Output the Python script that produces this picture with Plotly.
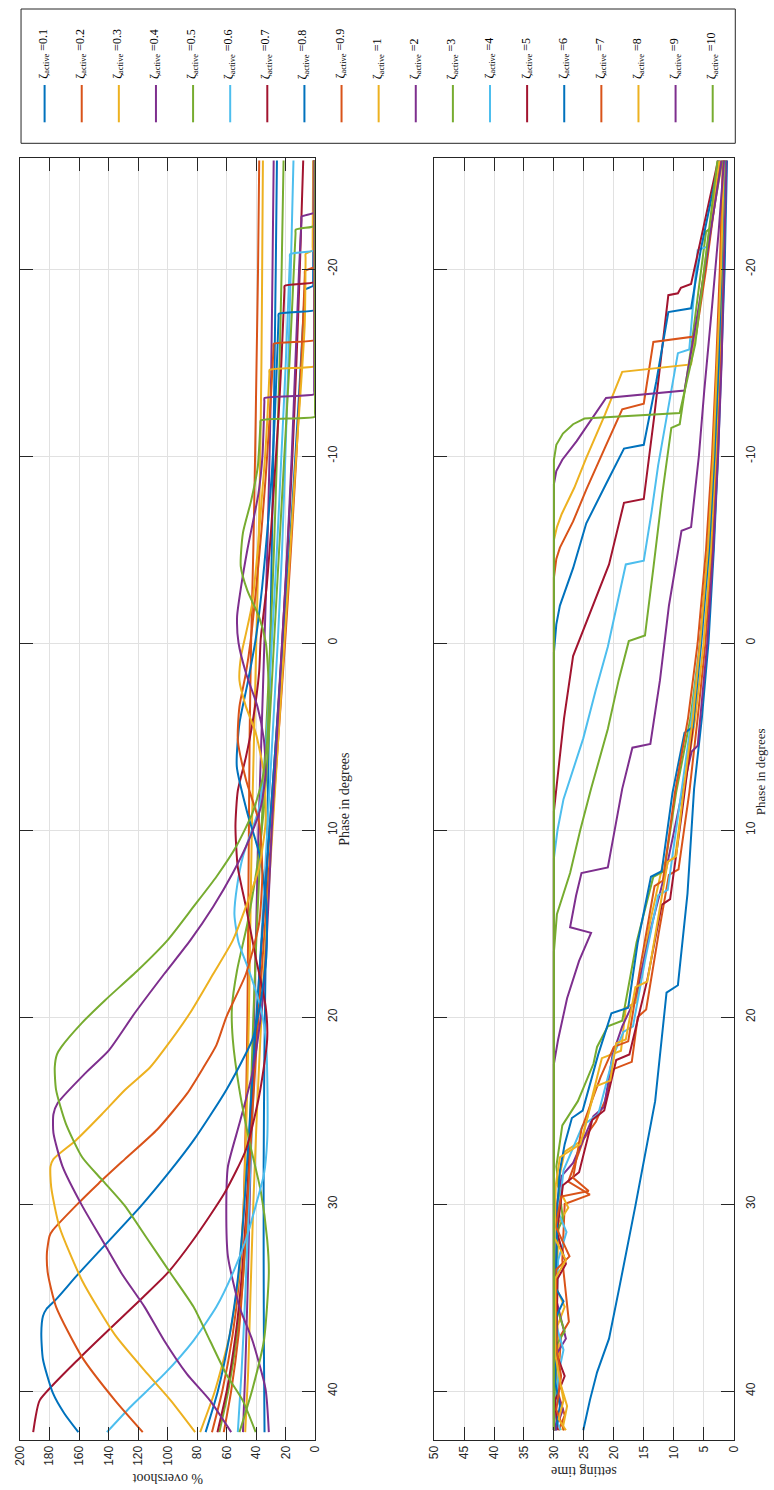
import plotly.graph_objects as go

W, H = 774, 1490

# ---- series labels and colours -------------------------------------------
zeta_active = ["0.1", "0.2", "0.3", "0.4", "0.5", "0.6", "0.7", "0.8", "0.9", "1",
               "2", "3", "4", "5", "6", "7", "8", "9", "10"]
line_colors = ["#0072BD", "#D95319", "#EDB120", "#7E2F8E", "#77AC30", "#4DBEEE", "#A2142F"]

phase_ticks = [-20, -10, 0, 10, 20, 30, 40]
phase_ticktext = ["-20", "-10", "0", "10", "20", "30", "40"]
overshoot_ticks = list(range(0, 201, 20))
settling_ticks = list(range(0, 51, 5))

# ---- % overshoot vs phase: (phase [deg], overshoot [%]) -------------------
overshoot_0_1 = [(42.2, 34.4), (38, 34.8), (33, 35.0), (28, 35.0), (22, 34.5), (16, 33.5), (10, 32.5),
                 (5, 31.5), (0, 30.5), (-5, 29.5), (-10, 28.5), (-15, 27.6), (-20, 26.8), (-25.8, 26.0)]
overshoot_0_2 = [(42.2, 70), (40, 63), (37, 56), (34, 51.5), (30, 48.5), (25, 47), (20, 46), (15, 45.5),
                 (10, 45), (5, 44.5), (0, 43.5), (-5, 42), (-10, 40.8), (-15, 39.8), (-20, 38.8), (-25.8, 38)]
overshoot_0_3 = [(42.2, 78), (40, 68), (37, 58), (34, 52), (30, 48.5), (25, 46.5), (20, 45), (15, 44),
                 (10, 43), (5, 41.5), (0, 40), (-5, 38.5), (-10, 37.3), (-15, 36.5), (-20, 36), (-25.8, 35.5)]
overshoot_0_4 = [(42.2, 49), (39, 47.5), (35, 46), (30, 44.5), (25, 43), (20, 41.5), (15, 40), (10, 38.5),
                 (5, 36.5), (0, 34.5), (-5, 32.5), (-10, 31), (-15, 29.8), (-20, 29), (-25.8, 28.2)]
overshoot_0_5 = [(42.2, 65), (40, 59), (37, 53), (34, 49), (30, 46), (25, 44), (20, 42), (15, 39.5),
                 (10, 36.5), (5, 33.5), (0, 30.5), (-5, 28), (-10, 26), (-15, 24.2), (-20, 22.8), (-25.8, 21.5)]
overshoot_0_6 = [(42.2, 52.5), (39, 50), (35, 47.5), (30, 45), (25, 42.5), (20, 39.5), (15, 36), (10, 32.5),
                 (5, 29), (0, 25.5), (-5, 22.5), (-10, 20.3), (-15, 18.3), (-20, 16.6), (-25.8, 14.8)]
overshoot_0_7 = [(42.2, 66.3), (40, 60), (37, 54), (34, 50), (30, 46.5), (25, 43), (20, 39.5), (15, 35.5),
                 (10, 31), (5, 26.5), (0, 22.5), (-5, 18.8), (-10, 15.5), (-15, 12.8), (-20, 10.5), (-25.8, 8.2)]
overshoot_0_8 = [(42.2, 74.3), (40, 66), (37, 58), (34, 52.5), (30, 48), (25, 44), (20, 40), (15, 35.5),
                 (10, 31), (5, 26.5), (0, 22), (-5, 17.5), (-10, 13.5), (-15, 9.8), (-18.7, 7.2), (-18.9, 7.0),
                 (-19.1, 1.5), (-19.3, 1.5), (-25.8, 1.2)]
overshoot_0_9 = [(42.2, 62), (40, 57), (37, 52), (34, 49), (30, 46), (25, 42.5), (20, 38.5), (15, 34),
                 (10, 29.5), (5, 25), (0, 20.5), (-5, 16.5), (-10, 12.8), (-15, 9.5), (-19.7, 7.1), (-19.9, 7.0),
                 (-20.1, 1.0), (-20.3, 1.0), (-25.8, 0.8)]
overshoot_1 = [(42.2, 47.5), (39, 45.5), (35, 44), (30, 42), (25, 39.5), (20, 36.5), (15, 33), (10, 29),
               (5, 25), (0, 21), (-5, 17), (-10, 13), (-14, 9.5), (-17, 7.2), (-20.6, 6.6), (-20.8, 6.6),
               (-21.0, 1.8), (-21.2, 1.8), (-25.8, 1.5)]
overshoot_2 = [(42.2, 31.5), (39.9, 33.7), (37.3, 42.6), (35.5, 51.4), (32.8, 59.2), (30.1, 60.3), (28, 59.2),
               (25.7, 51.4), (23, 42.6), (19.4, 36), (16, 33), (10, 29.5), (5, 26), (0, 22.5), (-5, 19),
               (-10, 16), (-15, 13.5), (-20, 11), (-22.6, 9.4), (-22.8, 9.3), (-23.0, 1.2), (-23.2, 1.2),
               (-25.8, 1.0)]
overshoot_3 = [(42.2, 51.4), (39.9, 42.6), (37.3, 34.8), (33.7, 31.5), (31.9, 32.6), (29.3, 37), (26.6, 44.8),
               (23.9, 51.4), (21.2, 55.9), (19.5, 56.5), (17.5, 53), (15, 46), (12, 39.5), (9, 35), (5, 31.5),
               (0, 28), (-5, 24.5), (-10, 21), (-15, 17.5), (-21.9, 13.4), (-22.1, 13.3), (-22.3, 0.3),
               (-22.5, 0.3), (-25.8, 0.1)]
overshoot_4 = [(42.2, 141.2), (40.8, 124.6), (39.1, 102.4), (37.3, 82.5), (35.5, 67), (33.7, 55.9), (31.9, 47),
               (30.1, 40.4), (28.4, 34.8), (26.6, 32.6), (24, 32.4), (21.2, 33.5), (19.5, 37), (17.5, 45),
               (16, 52), (14.5, 54.8), (13, 53), (11.4, 49), (8.8, 38), (6, 34), (3, 31.5), (0, 29.5), (-5, 26),
               (-10, 23), (-15, 20), (-20.6, 17.2), (-20.8, 17.1), (-21.0, 0.6), (-21.2, 0.6), (-25.8, 0.3)]
overshoot_5 = [(42.2, 191.1), (41.4, 189.5), (40.5, 186.7), (38.1, 157.9), (35.0, 116.9), (33.7, 100.2),
               (31.9, 82.5), (29.4, 61.4), (27.1, 47), (24.2, 38), (21.2, 32.6), (19.4, 33.7), (16.8, 40.4),
               (14.1, 47), (12.0, 52.5), (9.8, 54.1), (7.9, 52.5), (6.1, 47), (4.3, 42.6), (1.6, 38.1),
               (-0.2, 37), (-3, 33), (-6, 30), (-9, 27.5), (-12, 25), (-15, 23), (-18.9, 20.9), (-19.1, 20.8),
               (-19.3, 0.8), (-19.5, 0.8), (-25.8, 0.4)]
overshoot_6 = [(42.2, 160.5), (41.2, 170), (40.1, 177.8), (38.3, 184.5), (36.9, 185.6), (36.0, 184.5),
               (35.6, 182), (35.1, 175.6), (33.7, 160.1), (30.1, 118), (28.3, 99), (26.6, 82.5), (23.9, 60.3),
               (21.2, 42.6), (19.4, 37.5), (16.8, 33.2), (14.1, 33), (11.4, 37.5), (9.1, 46), (6.6, 53.2),
               (4.3, 51.4), (2.2, 46), (-0.2, 40.4), (-3, 36), (-6, 32.5), (-9, 29.5), (-12, 27.5), (-15, 26),
               (-17.4, 24.9), (-17.6, 24.8), (-17.8, 0.6), (-18.0, 0.6), (-25.8, 0.3)]
overshoot_7 = [(42.2, 116.9), (40.5, 135.7), (38.2, 157.9), (35.5, 175.6), (33.7, 181.2), (32.6, 181.8),
               (31.7, 180), (31.4, 177.8), (30.1, 162.3), (28.9, 146.8), (27.6, 129), (26.0, 106.9),
               (24.1, 86.9), (22.7, 75.8), (21.5, 67), (20, 60.3), (17.7, 47), (15, 38.1), (12.3, 35.9),
               (9.6, 38.1), (7.3, 47), (5.2, 52.5), (3.4, 51.4), (1.6, 47), (-0.2, 43.7), (-3, 40), (-6, 36.5),
               (-9, 33.5), (-12, 31), (-14, 29.5), (-15.8, 28.3), (-16.0, 28.2), (-16.2, 0.8), (-16.4, 0.8),
               (-25.8, 0.5)]
overshoot_8 = [(42.2, 81.4), (40.5, 98), (39.1, 113.5), (37, 135.7), (34.1, 157.9), (31.2, 173.4),
               (29.1, 178.9), (28.0, 179.4), (27.6, 177.4), (26.6, 162.3), (25.2, 144.6), (23.9, 129),
               (22.7, 112), (21.8, 103), (19.8, 85), (17.7, 69.2), (15.9, 55.9), (14.1, 47), (12, 38.1),
               (9.6, 33.7), (7, 34.8), (4.8, 40.4), (3.4, 47), (2, 51.4), (0.7, 50.3), (-0.5, 47), (-2, 43),
               (-5, 39), (-8, 36), (-10, 34), (-12, 32.5), (-14.4, 31.1), (-14.6, 31), (-14.8, 0.8),
               (-15.0, 0.8), (-25.8, 0.5)]
overshoot_9 = [(42.2, 57), (40.5, 71.4), (39.1, 86.9), (37.3, 102.4), (35.5, 115.7), (33.7, 131.3),
               (31.9, 144.6), (30.1, 157.9), (28, 171.2), (26.2, 177.4), (25.2, 177.4), (24.6, 174.5),
               (23.0, 155.7), (21.8, 140), (19.8, 122.4), (17.7, 102.4), (15.9, 84.7), (14.1, 69.2),
               (12.3, 55.9), (10.5, 44.8), (8.8, 37), (7, 33.7), (5.2, 34.8), (3.4, 39.2), (1.6, 47), (0, 52),
               (-1.4, 53), (-3, 50.3), (-5, 46), (-8, 38.5), (-10, 35.8), (-12.9, 34.5), (-13.1, 34.4),
               (-13.3, 0.8), (-13.5, 0.8), (-25.8, 0.5)]
overshoot_10 = [(42.2, 40.4), (40.5, 49.2), (39.1, 60.3), (37.3, 71.4), (35.5, 82.5), (33.7, 98),
                (31.9, 113.5), (30.1, 129), (28.7, 144.6), (27.5, 157.9), (25.7, 169), (23.9, 175.6),
                (22.7, 176.5), (22.0, 175), (21.6, 172), (20.3, 157.9), (19.1, 142.4), (17.5, 120.2),
                (15.9, 100.2), (14.1, 82.5), (12.5, 67), (10.9, 53.7), (9.1, 42.6), (7.3, 35.9), (5.2, 32.6),
                (2.5, 31.5), (0, 33.5), (-1.4, 38.1), (-2.8, 46), (-4.1, 50.5), (-5.9, 49), (-7.6, 43.5),
                (-9.4, 39), (-11.7, 37.2), (-11.9, 37), (-12.1, 0.2), (-12.3, 0.2), (-25.8, 0)]

# ---- settling time vs phase: (phase [deg], settling time) -----------------
settle_0_1 = [(42.1, 25.1), (40.5, 24.0), (39.0, 22.8), (37.2, 20.8), (34.5, 19.1), (30.1, 16.4), (24.5, 13.1),
              (18.7, 11.2), (18.3, 9.3), (13.4, 7.7), (7.8, 6.6), (4, 5.3), (0, 4.2), (-5, 3.3), (-10, 2.6),
              (-15, 2.0), (-20, 1.5), (-25.8, 1.1)]
settle_0_2 = [(42.1, 29.2), (41.3, 28.2), (40.0, 29.4), (37.0, 28.8), (36.3, 27.5), (33.0, 28.6), (30.0, 28.2),
              (29.5, 24.0), (28.8, 27.6), (26.5, 25.0), (25.6, 23.0), (24.5, 21.5), (22.8, 20.2), (22.4, 17.0),
              (20.0, 16.0), (19.6, 14.6), (15.5, 12.5), (12.4, 10.8), (12.1, 9.2), (8, 7.4), (4, 6.0), (0, 4.7),
              (-5, 3.6), (-10, 2.8), (-15, 2.2), (-20, 1.8), (-25.8, 1.3)]
settle_0_3 = [(42.1, 28.6), (40.8, 27.8), (39.5, 29.0), (36.5, 29.4), (35.5, 28.2), (34.5, 29.6), (31.0, 29.2),
              (30.2, 27.6), (29.0, 29.4), (27.2, 28.2), (26.6, 25.3), (24.5, 23.8), (22.2, 22.0), (21.8, 18.8),
              (19.5, 18.0), (19.2, 16.2), (15.0, 14.0), (11.8, 11.8), (11.5, 9.8), (8, 8.3), (4, 6.4), (0, 5.0),
              (-5, 3.8), (-10, 3.0), (-15, 2.4), (-20, 1.9), (-25.8, 1.4)]
settle_0_4 = [(42.1, 29.8), (41.0, 28.5), (39.8, 29.8), (38.0, 29.5), (37.2, 28.0), (35.0, 29.7), (30, 29.5),
              (28.5, 28.7), (27.8, 26.8), (25.3, 23.4), (24.8, 21.6), (22.0, 20.2), (20.5, 18.6), (19.0, 16.4),
              (15, 13.6), (12, 11.2), (8, 8.6), (5.8, 7.0), (5.5, 6.0), (0, 4.4), (-5, 3.4), (-10, 2.6),
              (-15, 2.0), (-20, 1.6), (-25.8, 1.2)]
settle_0_5 = [(42.1, 30), (40.0, 29.8), (37.5, 29.5), (36.8, 28.2), (35.5, 29.6), (31.5, 29.5), (30.8, 28.5),
              (28.0, 29.6), (25.8, 28.6), (24.5, 26.0), (22.5, 23.4), (21.6, 22.8), (20.5, 21.0), (20.2, 18.6),
              (16.0, 16.2), (12.5, 13.4), (12.2, 11.6), (8, 9.6), (4, 7.2), (0, 5.6), (-5, 4.1), (-10, 3.2),
              (-15, 2.5), (-20, 2.0), (-25.8, 1.5)]
settle_0_6 = [(42.1, 28.9), (41.2, 29.9), (39.0, 29.2), (37.8, 28.4), (36.5, 29.6), (33.0, 29.3), (31.5, 27.9),
              (30.5, 29.2), (28.2, 28.4), (25.8, 25.2), (25.2, 22.6), (22.0, 20.0), (20.8, 18.4), (20.5, 16.8),
              (17.0, 14.8), (13.5, 12.6), (13.2, 11.0), (8, 8.8), (4, 7.0), (0, 5.6), (-5, 4.2), (-10, 3.3),
              (-15, 2.6), (-20, 2.1), (-25.8, 1.6)]
settle_0_7 = [(42.1, 29.4), (40.5, 29.8), (39.2, 28.2), (38.0, 29.6), (34.0, 29.4), (33.2, 28.0), (31.5, 29.5),
              (29.0, 28.5), (28.3, 25.8), (25.5, 23.6), (25.0, 21.6), (22.3, 19.6), (22.0, 17.4), (18.0, 14.4),
              (14.0, 12.0), (13.7, 10.6), (9, 8.6), (4.5, 6.8), (0, 5.6), (-5, 4.3), (-10, 3.4), (-15, 2.7),
              (-20, 2.2), (-25.8, 1.7)]
settle_0_8 = [(42.1, 29.7), (40.8, 29.0), (39.5, 29.8), (36.0, 29.6), (35.2, 28.4), (34.5, 29.7), (30.0, 29.4),
              (28.2, 29.0), (26.8, 28.2), (25.4, 27.0), (25.0, 25.2), (22.0, 22.6), (19.8, 20.4), (19.5, 17.6),
              (16, 16.0), (12.5, 13.8), (12.2, 12.0), (8, 10.2), (4.8, 8.2), (4.5, 6.8), (0, 5.4), (-5, 4.1),
              (-10, 3.2), (-15, 2.5), (-20, 2.0), (-25.8, 1.5)]
settle_0_9 = [(42.1, 28.3), (41.0, 29.6), (39.2, 28.8), (37.5, 29.7), (33.5, 29.6), (32.8, 27.4), (31.2, 29.7),
              (29.6, 28.8), (29.3, 24.2), (28.6, 26.8), (26.0, 25.4), (23.2, 22.2), (21.6, 20.0), (21.3, 17.6),
              (17, 15.4), (13, 13.2), (12.7, 11.8), (8, 9.8), (4, 7.6), (0, 6.0), (-5, 4.6), (-10, 3.6),
              (-15, 2.9), (-20, 2.3), (-25.8, 1.8)]
settle_1 = [(42.1, 28.0), (41.5, 29.2), (40.5, 28.4), (38.0, 29.8), (34.0, 29.8), (33.0, 28.0), (31.8, 29.9),
            (29.0, 29.7), (27.5, 29.0), (26.8, 25.6), (23.7, 23.0), (23.4, 20.6), (21.4, 19.6), (21.2, 18.0),
            (18.4, 16.4), (18.1, 14.4), (11.7, 11.0), (11.4, 9.6), (8, 8.4), (4, 6.8), (0, 5.6), (-5, 4.3),
            (-10, 3.4), (-15, 2.7), (-20, 2.1), (-25.8, 1.6)]
settle_2 = [(42.1, 29.6), (41.5, 30), (22.5, 30), (21.2, 29.3), (19, 27.8), (17, 25.8), (15.5, 23.8),
            (15.2, 27.3), (13.5, 26.3), (12.3, 25.4), (12.0, 21.0), (9.5, 19.6), (7.8, 18.6), (5.6, 16.9),
            (5.4, 13.9), (2, 12.3), (-2, 10.8), (-6.0, 8.7), (-6.2, 7.1), (-10, 5.8), (-13.5, 4.9), (-18, 3.6),
            (-22, 2.5), (-25.8, 1.6)]
settle_3 = [(42.1, 30), (16.5, 30), (14.5, 29.5), (12.3, 27.3), (10, 25.6), (7.8, 23.8), (4.6, 21.0),
            (2, 19.2), (-0.1, 17.5), (-0.4, 14.8), (-4, 13.4), (-8, 11.9), (-11.5, 10.4), (-11.7, 9.0),
            (-16, 7.0), (-22.0, 4.6), (-22.2, 3.8), (-25.8, 1.9)]
settle_4 = [(42.1, 30), (11.5, 30), (10, 29.4), (8.35, 28.4), (5.1, 25.1), (2.5, 23), (0.2, 21), (-2, 19.5),
            (-4.2, 18), (-4.4, 15), (-7, 13.7), (-9.5, 12.6), (-12.5, 10.9), (-15.5, 9.3), (-15.7, 7.4),
            (-21.0, 6.0), (-21.2, 4.4), (-25.8, 2.2)]
settle_5 = [(42.1, 30), (9, 30), (7.5, 29.5), (4, 28.3), (0.7, 26.8), (-2, 23.5), (-4.2, 20.8), (-7.5, 18.3),
            (-7.7, 15.0), (-12, 13.3), (-15, 12.2), (-18.6, 10.9), (-18.7, 9.3), (-19.0, 8.8), (-19.2, 7.1),
            (-22, 5.2), (-25.8, 2.6)]
settle_6 = [(42.1, 30), (0.5, 30), (-1, 29.6), (-2, 29.0), (-4, 26.8), (-6.4, 24.6), (-8.5, 21.3),
            (-10.4, 18.3), (-10.6, 15.0), (-14, 12.9), (-17.7, 10.9), (-17.9, 7.1), (-21, 5.5), (-25.8, 2.4)]
settle_7 = [(42.1, 30), (-3.5, 30), (-4.5, 29.6), (-5.1, 29.0), (-6.5, 26.8), (-8.2, 24.6), (-10.5, 21.4),
            (-12.5, 18.6), (-12.8, 15.0), (-16.1, 13.4), (-16.4, 6.3), (-20, 4.6), (-25.8, 2.2)]
settle_8 = [(42.1, 30), (-5.5, 30), (-6.2, 29.5), (-6.9, 28.7), (-8.3, 26.6), (-9.9, 24.6), (-12.2, 21.5),
            (-14.5, 18.6), (-14.9, 7.1), (-20, 4.9), (-25.8, 2.4)]
settle_9 = [(42.1, 30), (-8.5, 30), (-9.2, 29.6), (-9.8, 28.6), (-10.8, 26.2), (-12.0, 23.6), (-13.1, 21.3),
            (-13.5, 8.2), (-18, 5.8), (-25.8, 2.0)]
settle_10 = [(42.1, 30), (-9.8, 30), (-10.6, 29.6), (-11.2, 28.5), (-11.7, 26.8), (-12.0, 24.9), (-12.3, 9.0),
             (-16, 6.4), (-20, 4.9), (-25.8, 2.7)]

overshoot = [overshoot_0_1, overshoot_0_2, overshoot_0_3, overshoot_0_4, overshoot_0_5, overshoot_0_6,
             overshoot_0_7, overshoot_0_8, overshoot_0_9, overshoot_1, overshoot_2, overshoot_3, overshoot_4,
             overshoot_5, overshoot_6, overshoot_7, overshoot_8, overshoot_9, overshoot_10]
settling = [settle_0_1, settle_0_2, settle_0_3, settle_0_4, settle_0_5, settle_0_6, settle_0_7, settle_0_8,
            settle_0_9, settle_1, settle_2, settle_3, settle_4, settle_5, settle_6, settle_7, settle_8,
            settle_9, settle_10]

# ---- figure ---------------------------------------------------------------
fig = go.Figure()

for i, z in enumerate(zeta_active):
    color = line_colors[i % len(line_colors)]
    pts = overshoot[i]
    fig.add_trace(go.Scatter(
        x=[v for _, v in pts], y=[p for p, _ in pts], xaxis="x", yaxis="y", mode="lines",
        line=dict(color=color, width=2, shape="spline", smoothing=0.6),
        name=f"ζactive = {z}", showlegend=False, hoverinfo="skip"))
for i, z in enumerate(zeta_active):
    color = line_colors[i % len(line_colors)]
    pts = settling[i]
    fig.add_trace(go.Scatter(
        x=[v for _, v in pts], y=[p for p, _ in pts], xaxis="x2", yaxis="y2", mode="lines",
        line=dict(color=color, width=2),
        name=f"ζactive = {z}", showlegend=False, hoverinfo="skip"))


def fx(px):
    return px / W


def fy(px):
    return 1 - px / H


AX_COLOR = "#262626"
GRID = "#e1e1e1"
tick_font = dict(family="Liberation Sans, Arial, sans-serif", size=12, color=AX_COLOR)
label_font = dict(family="Liberation Serif, Times New Roman, serif", size=14, color=AX_COLOR)

axis_common = dict(ticks="inside", ticklen=13, tickwidth=1, tickcolor=AX_COLOR, showline=True,
                   linecolor=AX_COLOR, linewidth=1, mirror="ticks", showgrid=True, gridcolor=GRID,
                   gridwidth=1, zeroline=False, tickangle=-90, tickfont=tick_font)

y_dom = [fy(1440), fy(158.3)]
phase_range = [42.62, -25.92]

fig.update_layout(
    width=W, height=H, autosize=False,
    margin=dict(l=0, r=0, t=0, b=0, pad=0),
    paper_bgcolor="white", plot_bgcolor="white",
    xaxis=dict(domain=[fx(13.3), fx(314)], range=[200, 0], tickvals=overshoot_ticks, anchor="y",
               **axis_common),
    yaxis=dict(domain=y_dom, range=phase_range, tickvals=phase_ticks, ticktext=phase_ticktext,
               side="right", anchor="x", ticklabelstandoff=6, **axis_common),
    xaxis2=dict(domain=[fx(435), fx(740)], range=[50, 0], tickvals=settling_ticks, anchor="y2",
                **axis_common),
    yaxis2=dict(domain=y_dom, range=phase_range, tickvals=phase_ticks, ticktext=phase_ticktext,
                side="right", anchor="x2", ticklabelstandoff=6, **axis_common),
)

annotations = [
    dict(text="% overshoot", x=fx(164), y=fy(1479), textangle=180, size=14),
    dict(text="setting time", x=fx(587.5), y=fy(1472), textangle=180, size=14),
    dict(text="Phase in degrees", x=fx(343), y=fy(799), textangle=-90, size=14),
    dict(text="Phase in degrees", x=fx(767), y=fy(772), textangle=-90, size=13),
]
for a in annotations:
    size = a.pop("size")
    fig.add_annotation(xref="paper", yref="paper", showarrow=False, xanchor="center", yanchor="middle",
                       font=dict(label_font, size=size), **a)

# legend box with one vertical sample line and rotated label per series
fig.add_shape(type="rect", xref="paper", yref="paper", x0=fx(14.3), x1=fx(741.7), y0=fy(143.3), y1=fy(9),
              line=dict(color=AX_COLOR, width=1), fillcolor="white", layer="above")
for i, z in enumerate(zeta_active):
    color = line_colors[i % len(line_colors)]
    lx = 38.3 + 37.8 * i
    fig.add_shape(type="line", xref="paper", yref="paper", x0=fx(lx), x1=fx(lx), y0=fy(122.3), y1=fy(85),
                  line=dict(color=color, width=2), layer="above")
    fig.add_annotation(xref="paper", yref="paper", x=fx(lx - 1), y=fy(81), showarrow=False,
                       xanchor="center", yanchor="bottom", textangle=-90,
                       text=f"ζ<sub>active</sub> ={z}",
                       font=dict(family="Liberation Serif, Times New Roman, serif", size=12, color="#000000"))

fig.write_html("out.html")
